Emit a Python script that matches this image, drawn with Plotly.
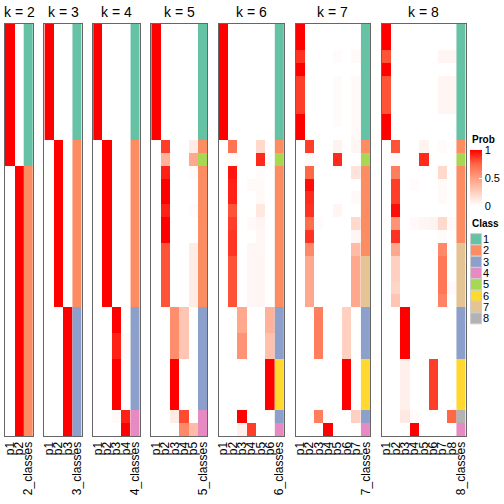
import plotly.graph_objects as go

W = H = 504
ROWS = list(range(32))

# ---------------- membership probabilities (columns p1..pk, 32 samples) ----------------
k2_p = [
    [1,1,1,1,1,1,1,1, 1,1,1,0,0,0,0,0, 0,0,0,0,0,0,0,0, 0,0,0,0,0,0,0,0],
    [0,0,0,0,0,0,0,0, 0,0,0,1,1,1,1,1, 1,1,1,1,1,1,1,1, 1,1,1,1,1,1,1,1],
]
k2_cls = [1,1,1,1,1,1,1,1, 1,1,1,2,2,2,2,2, 2,2,2,2,2,2,2,2, 2,2,2,2,2,2,2,2]

k3_p = [
    [1,1,1,1,1,1,1,1, 1,0,0,0,0,0,0,0, 0,0,0,0,0,0,0,0, 0,0,0,0,0,0,0,0],
    [0,0,0,0,0,0,0,0, 0,1,1,1,1,1,1,1, 1,1,1,1,1,1,0,0, 0,0,0,0,0,0,0,0],
    [0,0,0,0,0,0,0,0, 0,0,0,0,0,0,0,0, 0,0,0,0,0,0,1,1, 1,1,1,1,1,1,1,1],
]
k3_cls = [1,1,1,1,1,1,1,1, 1,2,2,2,2,2,2,2, 2,2,2,2,2,2,3,3, 3,3,3,3,3,3,3,3]

k4_p = [
    [1,1,1,1,1,1,1,1, 1,0,0,0,0,0,0,0, 0,0,0,0,0,0,0,0, 0,0,0,0,0,0,0,0],
    [0,0,0,0,0,0,0,0, 0,1,1,1,1,1,1,1, 1,1,1,1,1,1,0,0, 0,0,0,0,0,0,0,0],
    [0,0,0,0,0,0,0,0, 0,0,0,0,0,0,0,0, 0,0,0,0,0,0,1,1, .92,.92,1,1,1,1,.03,0],
    [0,0,0,0,0,0,0,0, 0,0,0,0,0,0,0,0, 0,0,0,0,0,0,0,0, .03,.03,0,0,0,0,.92,1],
]
k4_cls = [1,1,1,1,1,1,1,1, 1,2,2,2,2,2,2,2, 2,2,2,2,2,2,3,3, 3,3,3,3,3,3,4,4]

k5_p = [
    [1,1,1,1,1,1,1,1, 1,0,0,0,0,0,0,0, 0,0,0,0,0,0,0,0, 0,0,0,0,0,0,0,0],
    [0,0,0,0,0,0,0,0, 0,.85,.4,.92,1,1,.92,1, 1,.8,.8,.8,.8,.8,0,0, 0,0,0,0,0,0,0,0],
    [0,0,0,0,0,0,0,0, 0,0,0,0,0,0,0,0, 0,0,0,0,0,0,.58,.58, .58,.58,1,1,1,1,.1,0],
    [0,0,0,0,0,0,0,0, 0,0,0,0,0,0,0,0, 0,0,0,0,0,0,.3,.3, .3,.3,0,0,0,0,.82,.6],
    [0,0,0,0,0,0,0,0, 0,.1,.45,.02,0,0,.02,0, 0,.1,.1,.1,.1,.1,0,0, 0,0,0,0,0,0,0,.35],
]
k5_cls = [1,1,1,1,1,1,1,1, 1,2,5,2,2,2,2,2, 2,2,2,2,2,2,3,3, 3,3,3,3,3,3,4,4]

k6_p = [
    [1,1,1,1,1,1,1,1, 1,0,0,0,0,0,0,0, 0,0,0,0,0,0,0,0, 0,0,0,0,0,0,0,0],
    [0,0,0,0,0,0,0,0, 0,.7,.03,.95,.92,.92,.8,.85, .87,.87,.8,.8,.8,.8,0,0, 0,0,0,0,0,0,0,0],
    [0,0,0,0,0,0,0,0, 0,0,0,0,0,0,0,0, 0,0,0,0,0,0,.45,.45, .55,.55,0,0,0,0,1,.08],
    [0,0,0,0,0,0,0,0, 0,0,0,0,.03,0,0,.03, 0,.04,.04,.04,.04,.04,0,0, 0,0,0,0,0,0,0,.85],
    [0,0,0,0,0,0,0,0, 0,.2,.9,.02,.03,.03,.12,.05, .04,.04,.05,.05,.05,.05,0,0, 0,0,0,0,0,0,0,0],
    [0,0,0,0,0,0,0,0, 0,0,0,0,0,0,0,0, 0,0,0,0,0,0,.4,.4, .32,.32,1,1,1,1,0,0],
]
k6_cls = [1,1,1,1,1,1,1,1, 1,2,5,2,2,2,2,2, 2,2,2,2,2,2,3,3, 3,3,6,6,6,6,3,4]

k7_p = [
    [1,1,.88,1,.85,.85,.85,1, 1,0,0,0,0,0,0,0, 0,0,0,0,0,0,0,0, 0,0,0,0,0,0,0,0],
    [0,0,0,0,0,0,0,0, 0,.85,.03,.75,.97,.9,.88,.72, .88,.6,.45,.45,.45,.45,0,0, 0,0,0,0,0,0,0,0],
    [0,0,0,0,0,0,0,0, 0,0,0,0,0,0,0,.02, 0,0,0,0,0,0,.65,.65, .65,.65,0,0,0,0,.65,0],
    [0,0,0,0,0,0,0,0, 0,0,0,0,0,0,0,0, 0,0,0,0,0,0,0,0, 0,0,0,0,0,0,.02,1],
    [0,0,.02,0,.02,.02,.02,.02, 0,.06,.9,0,0,0,.05,0, 0,0,0,0,0,0,0,0, 0,0,0,0,0,0,0,0],
    [0,0,0,0,0,0,0,0, 0,0,0,0,0,0,0,0, 0,0,0,0,0,0,.25,.25, .25,.25,1,1,1,1,0,0],
    [0,0,.03,0,.03,.03,.03,.03, .03,.05,0,.15,0,.03,0,.2, .05,.35,.45,.45,.45,.45,0,0, 0,0,0,0,0,0,.25,0],
]
k7_cls = [1,1,1,1,1,1,1,1, 1,2,5,2,2,2,2,2, 2,2,7,7,7,7,3,3, 3,3,6,6,6,6,3,4]

k8_p = [
    [1,1,.8,1,.8,.8,.8,1, 1,0,0,0,0,0,0,0, 0,0,0,0,0,0,0,0, 0,0,0,0,0,0,0,0],
    [0,0,0,0,0,0,0,0, 0,.8,.03,.65,.85,.85,.97,.55, .88,.45,.25,.25,.22,.3,0,0, 0,0,0,0,0,0,0,0],
    [0,0,0,0,0,0,0,0, 0,0,0,0,0,0,0,0, 0,0,0,0,0,0,1,1, 1,1,.08,.08,.08,.08,.12,0],
    [0,0,0,0,0,0,0,0, 0,0,0,0,.02,0,0,.03, 0,0,0,0,0,0,0,0, 0,0,0,0,0,0,.02,1],
    [0,0,0,0,0,0,0,0, 0,.06,.9,0,0,0,0,.05, 0,0,0,0,0,0,0,0, 0,0,0,0,0,0,0,0],
    [0,0,0,0,0,0,0,0, 0,0,0,0,0,0,0,.06, 0,0,0,0,0,0,0,0, 0,0,.85,.85,.85,.85,0,0],
    [0,0,.05,0,.05,.05,.05,0, 0,.02,0,.2,.03,.03,0,.2, .02,.6,.68,.68,.68,.62,0,0, 0,0,0,0,0,0,0,0],
    [0,0,.05,0,.05,.05,.05,0, 0,0,0,0,0,0,0,.03, 0,0,0,0,.03,0,0,0, 0,0,0,0,0,0,.75,0],
]
k8_cls = [1,1,1,1,1,1,1,1, 1,2,5,2,2,2,2,2, 2,7,7,7,7,7,3,3, 3,3,6,6,6,6,8,4]

PANELS = [(2, k2_p, k2_cls), (3, k3_p, k3_cls), (4, k4_p, k4_cls), (5, k5_p, k5_cls),
          (6, k6_p, k6_cls), (7, k7_p, k7_cls), (8, k8_p, k8_cls)]

CLASS_LABELS = ["1", "2", "3", "4", "5", "6", "7", "8"]
CLASS_COLORS = ["#66C2A5", "#FC8D62", "#8DA0CB", "#E78AC3",
                "#A6D854", "#FFD92F", "#E5C494", "#B3B3B3"]
PROB_TICKS = [0, 0.5, 1]
PROB_TICKTEXT = ["0", "0.5", "1"]

# ---------------- styling ----------------
FONT = "Liberation Sans, Arial, Helvetica, sans-serif"
PROB_SCALE = [[0, "#FFFFFF"], [0.25, "#FFCFBF"], [0.5, "#FF9E81"], [0.75, "#FF6846"], [1, "#FF0000"]]
n = len(CLASS_COLORS)
CLASS_SCALE = []
for i, c in enumerate(CLASS_COLORS):
    CLASS_SCALE.append([i / n, c])
    CLASS_SCALE.append([(i + 1) / n, c])

def px_x(p):
    return p / W

def px_y(p):
    return 1 - p / H

TOP, BOTTOM = 24, 436
CW, GAP, X0 = 9.35, 11.35, 5.0

fig = go.Figure()
layout = {}
x_cursor = X0
for idx, (k, cols, cls) in enumerate(PANELS):
    ax = idx + 1
    xa = "x" if ax == 1 else f"x{ax}"
    ya = "y" if ax == 1 else f"y{ax}"
    xname = "xaxis" if ax == 1 else f"xaxis{ax}"
    yname = "yaxis" if ax == 1 else f"yaxis{ax}"
    labels = [f"p{j+1}" for j in range(k)] + [f"{k}_classes"]
    z = [[col[r] for col in cols] for r in ROWS]
    fig.add_trace(go.Heatmap(
        z=z, x0=0, dx=1, y0=0, dy=1, xaxis=xa, yaxis=ya,
        colorscale=PROB_SCALE, zmin=0, zmax=1,
        showscale=(k == 8),
        colorbar=dict(x=px_x(470), xanchor="left", xpad=0, ypad=0,
                      y=px_y(150), yanchor="top", lenmode="pixels", len=56,
                      thickness=12, outlinewidth=0,
                      tickvals=PROB_TICKS, ticktext=PROB_TICKTEXT,
                      ticks="inside", ticklen=3, tickcolor="#FFFFFF", tickwidth=1,
                      tickfont=dict(size=11, family=FONT, color="#000")),
        hoverinfo="skip"))
    fig.add_trace(go.Heatmap(
        z=[[c] for c in cls], x0=k, dx=1, y0=0, dy=1, xaxis=xa, yaxis=ya,
        colorscale=CLASS_SCALE, zmin=0.5, zmax=8.5, showscale=False,
        hoverinfo="skip"))
    width = (k + 1) * CW
    x_left, x_right = x_cursor, x_cursor + width
    layout[xname] = dict(domain=[px_x(x_left), px_x(x_right)], anchor=ya,
                         range=[-0.5, k + 0.5],
                         tickmode="array", tickvals=list(range(k + 1)), ticktext=labels,
                         tickangle=-90, ticks="", showgrid=False, zeroline=False,
                         showline=True, mirror=True, linecolor="#666", linewidth=1,
                         automargin=False,
                         tickfont=dict(size=12, family=FONT, color="#000"))
    layout[yname] = dict(domain=[px_y(BOTTOM), px_y(TOP)], anchor=xa,
                         range=[31.5, -0.5], showticklabels=False, ticks="",
                         showgrid=False, zeroline=False, automargin=False,
                         showline=True, mirror=True, linecolor="#666", linewidth=1)
    fig.add_annotation(text=f"k = {k}", x=px_x((x_left + x_right) / 2), y=px_y(12),
                       xref="paper", yref="paper", showarrow=False,
                       font=dict(size=14, family=FONT, color="#000"),
                       xanchor="center", yanchor="middle")
    x_cursor = x_right + GAP

# ---------------- class legend as a small scatter panel ----------------
lx, ly = len(PANELS) + 1, len(PANELS) + 1
fig.add_trace(go.Scatter(
    x=[0] * n, y=list(range(1, n + 1)), mode="markers",
    xaxis=f"x{lx}", yaxis=f"y{ly}",
    marker=dict(symbol="square", size=11, color=CLASS_COLORS,
                line=dict(color="#CCCCCC", width=1)),
    showlegend=False, hoverinfo="skip", cliponaxis=False))
layout[f"xaxis{lx}"] = dict(domain=[px_x(470), px_x(482)], anchor=f"y{ly}",
                            range=[-0.5, 0.5], visible=False)
layout[f"yaxis{ly}"] = dict(domain=[px_y(324), px_y(233.5)], anchor=f"x{lx}",
                            range=[8.5, 0.5], side="right", automargin=False,
                            tickmode="array", tickvals=list(range(1, n + 1)), ticktext=CLASS_LABELS,
                            ticks="", showgrid=False, zeroline=False, showline=False,
                            tickfont=dict(size=11, family=FONT, color="#000"))

fig.add_annotation(text="<b>Prob</b>", x=px_x(470), y=px_y(139), xref="paper", yref="paper",
                   showarrow=False, xanchor="left", yanchor="middle",
                   font=dict(size=10, family=FONT, color="#000"))
fig.add_annotation(text="<b>Class</b>", x=px_x(470), y=px_y(223.5), xref="paper", yref="paper",
                   showarrow=False, xanchor="left", yanchor="middle",
                   font=dict(size=10, family=FONT, color="#000"))

fig.update_layout(width=W, height=H, margin=dict(l=0, r=0, t=0, b=0),
                  paper_bgcolor="white", plot_bgcolor="white", showlegend=False,
                  font=dict(family=FONT), **layout)
fig.write_html("out.html", config={"displayModeBar": False},
               post_script="document.body.style.margin='0';")
